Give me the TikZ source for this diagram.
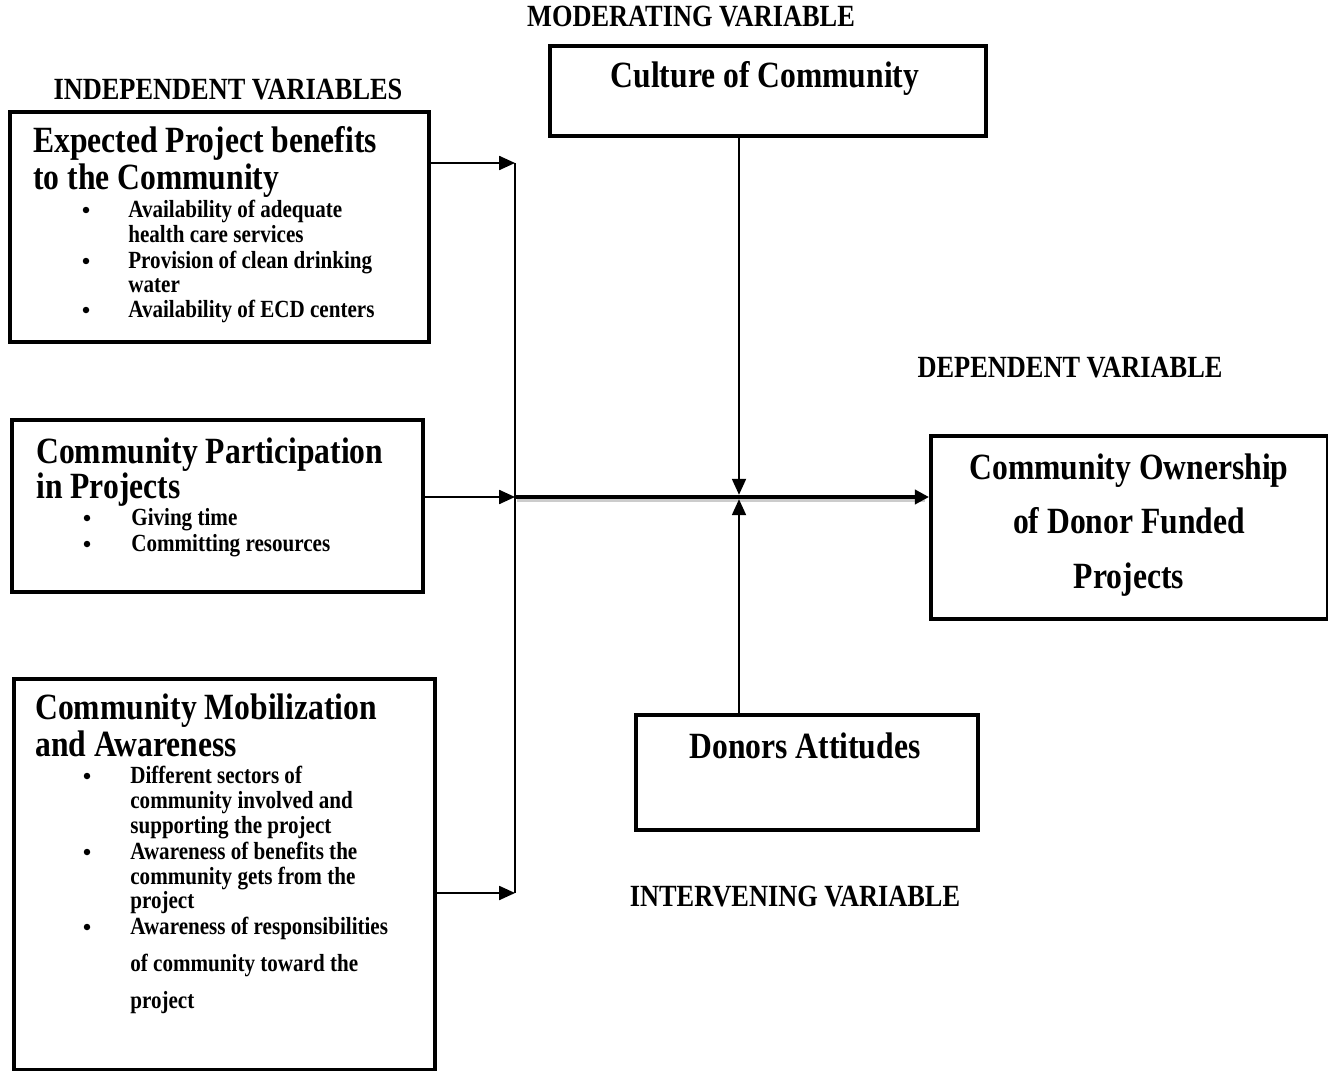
\documentclass[tikz,border=0pt]{standalone}
\usepackage{fontspec}
\setmainfont{Liberation Serif}
\usepackage{graphicx}
\usetikzlibrary{calc,arrows.meta}
\newcommand{\tall}[1]{\scalebox{1}[1.17]{#1}}
\tikzset{
  varbox/.style={draw, line width=2.2pt, inner sep=0pt, anchor=north west},
  headtxt/.style={font=\fontsize{18}{18}\selectfont\bfseries, inner sep=0pt, anchor=base west},
  itemtxt/.style={font=\fontsize{12}{12}\selectfont\bfseries, inner sep=0pt, anchor=base west},
  bul/.style={circle, fill, inner sep=0pt, minimum size=0.13cm},
  vartitle/.style={font=\fontsize{15}{15}\selectfont\bfseries, inner sep=0pt, anchor=base},
  arr/.style={line width=0.9pt, -{Triangle[length=9pt, width=8pt]}},
  mainarr/.style={line width=2.6pt, -{Triangle[length=8pt, width=8pt]}}
}
\begin{document}
\begin{tikzpicture}[x=0.02cm, y=-0.02cm]
  \useasboundingbox (0,0) rectangle (1328,1071);

  %%%%% VARIABLE TITLES %%%%%
  \node[vartitle] (modtitle) at (691,27) {\tall{MODERATING VARIABLE}};
  \node[vartitle] (indtitle) at (228,100) {\tall{INDEPENDENT VARIABLES}};
  \node[vartitle] (deptitle) at (1070,377) {\tall{DEPENDENT VARIABLE}};
  \node[vartitle] (inttitle) at (795,906) {\tall{INTERVENING VARIABLE}};

  %%%%% BOXES %%%%%
  \node[varbox, minimum width=8.38cm, minimum height=4.6cm] (benefits) at (8,110) {};
  \node[varbox, minimum width=8.22cm, minimum height=3.44cm] (particip) at (10,418) {};
  \node[varbox, minimum width=8.42cm, minimum height=7.82cm] (mobil) at (12,677) {};
  \node[varbox, minimum width=8.72cm, minimum height=1.8cm] (culture) at (548,44) {};
  \node[varbox, minimum width=6.84cm, minimum height=2.3cm] (donors) at (634,713) {};
  \node[varbox, minimum width=7.94cm, minimum height=3.66cm] (ownership) at (929,434) {};

  %%%%% BOX TEXTS %%%%%
  % expected benefits
  \foreach \y/\t [count=\i] in {153/Expected Project benefits, 190/to the Community}
    \node[headtxt] (benefits-h\i) at (33,\y) {\tall{\t}};
  \foreach \y [count=\i] in {210,261,310}
    \node[bul] (benefits-b\i) at (86,\y) {};
  \foreach \y/\t [count=\i] in {217/Availability of adequate, 242/health care services,
      268/Provision of clean drinking, 292/water, 317/Availability of ECD centers}
    \node[itemtxt] (benefits-t\i) at (128,\y) {\tall{\t}};

  % participation
  \foreach \y/\t [count=\i] in {463/Community Participation, 498/in Projects}
    \node[headtxt] (particip-h\i) at (36,\y) {\tall{\t}};
  \foreach \y [count=\i] in {518,544}
    \node[bul] (particip-b\i) at (87,\y) {};
  \foreach \y/\t [count=\i] in {525/Giving time, 551/Committing resources}
    \node[itemtxt] (particip-t\i) at (131,\y) {\tall{\t}};

  % mobilization
  \foreach \y/\t [count=\i] in {719/Community Mobilization, 756/and Awareness}
    \node[headtxt] (mobil-h\i) at (35,\y) {\tall{\t}};
  \foreach \y [count=\i] in {776,852,927}
    \node[bul] (mobil-b\i) at (87,\y) {};
  \foreach \y/\t [count=\i] in {783/Different sectors of, 808/community involved and,
      833/supporting the project, 859/Awareness of benefits the, 884/community gets from the,
      908/project, 934/Awareness of responsibilities, 971/of community toward the, 1008/project}
    \node[itemtxt] (mobil-t\i) at (130,\y) {\tall{\t}};

  % ownership
  \foreach \y/\t [count=\i] in {479/Community Ownership, 533/of Donor Funded, 588/Projects}
    \node[headtxt, anchor=base] (ownership-t\i) at (1129,\y) {\tall{\t}};

  \node[headtxt, anchor=base] (culture-t) at (765,88) {\tall{Culture of Community}};
  \node[headtxt, anchor=base] (donors-t) at (805,758) {\tall{Donors Attitudes}};

  %%%%% CONNECTORS %%%%%
  \coordinate (jtop) at (515,163);
  \coordinate (jmid) at (515,497);
  \coordinate (jbot) at (515,893);
  \coordinate (meet) at (739,497);

  \draw[line width=0.9pt] (jtop) -- (jbot);
  \draw[arr] (benefits.east |- jtop) -- (jtop);
  \draw[arr] (particip.east |- jmid) -- (jmid);
  \draw[arr] (mobil.east |- jbot) -- (jbot);

  \draw[line width=2.6pt, black!20] ($(jmid)+(2,3)$) -- ($(ownership.west |- jmid)+(-4,3)$);
  \draw[mainarr] (jmid) -- (ownership.west |- jmid);

  \draw[arr, shorten >=1.3pt] (meet |- culture.south) -- (meet);
  \draw[arr, shorten >=1.3pt] (meet |- donors.north) -- (meet);
\end{tikzpicture}
\end{document}
